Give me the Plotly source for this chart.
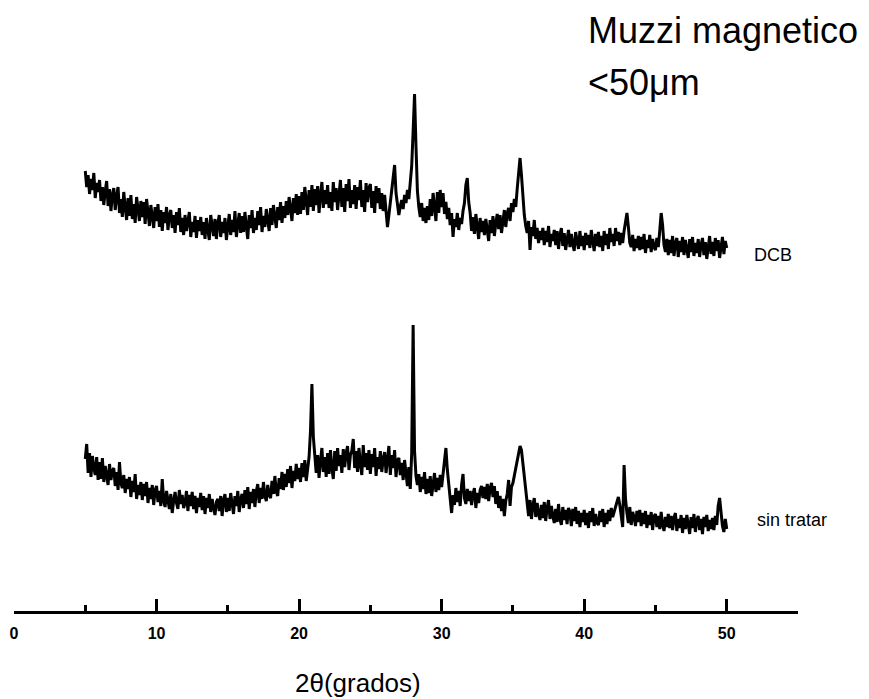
import numpy as np
import plotly.graph_objects as go

# 2-theta sampling grid (degrees), 5.0 .. 50.0 step 0.1
two_theta = np.round(5.0 + 0.1 * np.arange(451), 1)

# DCB trace (arbitrary intensity units, offset trace)
dcb = [
    440, 424, 436, 417, 432, 421, 438, 413, 428, 419,
    431, 410, 424, 406, 420, 430, 405, 422, 400, 416,
    423, 401, 415, 424, 398, 412, 394, 419, 404, 391,
    413, 395, 416, 392, 407, 388, 414, 399, 390, 410,
    394, 409, 387, 412, 399, 385, 406, 393, 383, 404,
    390, 407, 384, 401, 380, 399, 388, 404, 381, 396,
    401, 383, 396, 378, 399, 386, 403, 379, 393, 376,
    396, 380, 392, 399, 374, 389, 379, 395, 373, 391,
    380, 394, 376, 389, 372, 393, 381, 371, 396, 383,
    375, 392, 372, 388, 396, 374, 389, 378, 393, 371,
    383, 397, 376, 391, 379, 400, 374, 389, 398, 378,
    395, 379, 399, 384, 372, 396, 383, 401, 378, 393,
    381, 400, 386, 404, 379, 395, 384, 402, 390, 380,
    403, 386, 406, 392, 383, 404, 391, 409, 388, 405,
    393, 410, 396, 414, 399, 390, 413, 398, 417, 396,
    415, 397, 419, 401, 424, 405, 396, 421, 404, 426,
    400, 422, 406, 425, 398, 416, 429, 403, 421, 407,
    426, 403, 419, 400, 429, 409, 423, 401, 418, 431,
    404, 423, 399, 427, 410, 432, 403, 421, 407, 426,
    402, 424, 411, 431, 404, 421, 399, 428, 409, 423,
    427, 403, 420, 398, 425, 408, 423, 402, 418, 400,
    416, 401, 384, 396, 410, 422, 436, 446, 418, 404,
    396, 405, 411, 402, 416, 408, 421, 412, 428, 445,
    480, 517, 465, 420, 404, 394, 408, 390, 403, 388,
    405, 391, 412, 395, 418, 400, 390, 419, 398, 421,
    404, 418, 397, 409, 392, 403, 386, 398, 374, 392,
    384, 398, 381, 393, 387, 400, 408, 426, 433, 409,
    398, 380, 394, 377, 397, 384, 372, 393, 379, 390,
    376, 392, 381, 370, 391, 378, 395, 375, 388, 397,
    382, 396, 378, 392, 401, 384, 398, 403, 390, 408,
    399, 412, 404, 422, 440, 453, 436, 410, 396, 385,
    378, 390, 361, 384, 375, 391, 372, 383, 368, 380,
    371, 383, 366, 380, 369, 385, 364, 377, 370, 381,
    366, 380, 362, 376, 383, 365, 378, 361, 374, 381,
    364, 377, 367, 360, 379, 368, 362, 380, 365, 375,
    361, 378, 366, 376, 363, 381, 368, 360, 377, 365,
    379, 364, 375, 360, 380, 366, 377, 362, 383, 369,
    377, 365, 383, 370, 379, 366, 378, 368, 380, 390,
    398, 384, 368, 364, 376, 360, 372, 363, 375, 361,
    374, 362, 377, 358, 371, 363, 376, 359, 372, 364,
    361, 373, 364, 380, 398, 386, 366, 359, 372, 356,
    371, 358, 375, 355, 368, 373, 354, 370, 359, 374,
    356, 371, 362, 353, 372, 359, 374, 355, 368, 358,
    372, 354, 366, 373, 356, 369, 352, 367, 375, 357,
    369, 355, 373, 360, 371, 353, 366, 374, 357, 370,
    363,
]

# "sin tratar" (untreated) trace
sin_tratar = [
    152, 167, 138, 158, 134, 155, 143, 136, 154, 131,
    149, 132, 153, 129, 145, 136, 126, 147, 131, 140,
    143, 125, 139, 121, 149, 128, 123, 136, 118, 132,
    122, 134, 114, 130, 119, 137, 112, 126, 116, 129,
    111, 127, 115, 129, 108, 123, 112, 126, 106, 121,
    125, 109, 120, 105, 132, 110, 104, 120, 110, 102,
    117, 98, 110, 119, 108, 102, 121, 107, 116, 103,
    108, 120, 100, 116, 105, 119, 102, 115, 98, 113,
    104, 118, 101, 115, 97, 113, 103, 117, 99, 112,
    103, 96, 109, 112, 100, 115, 95, 111, 117, 99,
    113, 100, 118, 104, 97, 115, 105, 120, 99, 112,
    117, 103, 121, 107, 124, 102, 119, 108, 122, 104,
    120, 127, 108, 123, 112, 129, 115, 110, 126, 116,
    113, 130, 117, 135, 119, 115, 133, 122, 139, 121,
    137, 124, 142, 128, 145, 123, 140, 130, 147, 132,
    143, 129, 148, 134, 151, 130, 146, 154, 180, 227,
    174, 150, 138, 156, 133, 150, 163, 139, 154, 134,
    158, 137, 161, 143, 132, 160, 140, 163, 145, 156,
    138, 162, 144, 158, 165, 141, 156, 160, 172, 143,
    160, 139, 163, 147, 136, 166, 144, 158, 141, 161,
    137, 157, 144, 163, 135, 154, 142, 160, 139, 152,
    159, 138, 153, 165, 136, 156, 143, 161, 134, 151,
    153, 136, 148, 131, 151, 137, 125, 144, 122, 158,
    286, 160, 135, 126, 137, 119, 134, 122, 139, 117,
    132, 118, 135, 115, 130, 138, 119, 133, 121, 136,
    124, 138, 149, 163, 141, 126, 118, 98, 116, 106,
    123, 109, 120, 105, 126, 137, 113, 107, 122, 110,
    120, 106, 117, 123, 103, 118, 108, 121, 125, 113,
    124, 112, 127, 110, 123, 128, 114, 125, 107, 120,
    103, 115, 100, 112, 95, 110, 117, 131, 105, 124,
    128, 135, 142, 150, 158, 165, 161, 147, 132, 116,
    107, 95, 111, 92, 106, 113, 94, 108, 97, 91,
    106, 93, 109, 90, 103, 111, 92, 105, 95, 88,
    102, 89, 107, 92, 86, 104, 91, 101, 87, 103,
    99, 85, 102, 90, 104, 87, 100, 84, 98, 89,
    101, 86, 98, 83, 100, 89, 103, 85, 97, 88,
    86, 100, 89, 102, 84, 98, 87, 101, 90, 103,
    94, 99, 104, 110, 114, 106, 95, 84, 146, 112,
    98, 88, 104, 86, 99, 94, 85, 100, 89, 101,
    85, 98, 87, 100, 83, 96, 86, 99, 81, 95,
    97, 84, 95, 82, 99, 86, 80, 94, 84, 97,
    83, 95, 81, 93, 98, 80, 92, 83, 96, 78,
    93, 82, 96, 84, 77, 94, 83, 97, 79, 91,
    95, 81, 92, 77, 94, 84, 96, 80, 91, 82,
    93, 81, 95, 86, 105, 113, 98, 85, 79, 92,
    82,
]

x_ticks = [0, 10, 20, 30, 40, 50]
series_labels = ["DCB", "sin tratar"]
title_lines = ["Muzzi magnetico", "<50\u03bcm"]
x_title = "2\u03b8(grados)"

FONT = "Liberation Sans, Arial, Helvetica, sans-serif"

fig = go.Figure()
for ys in (dcb, sin_tratar):
    fig.add_trace(go.Scatter(
        x=two_theta, y=ys, mode="lines",
        line=dict(color="black", width=3),
        showlegend=False, hoverinfo="skip",
    ))

fig.update_layout(
    width=869, height=699, autosize=False,
    margin=dict(l=14, r=71, t=0, b=88),
    paper_bgcolor="white", plot_bgcolor="white",
    font=dict(family=FONT, color="black"),
    xaxis=dict(
        range=[0, 55], tickvals=x_ticks, ticktext=[str(v) for v in x_ticks],
        showline=True, linecolor="black", linewidth=2.5,
        ticks="inside", ticklen=12, tickwidth=2.5, tickcolor="black",
        showgrid=False, zeroline=False, ticklabelstandoff=6,
        tickfont=dict(size=16, family=FONT, color="black", weight="bold"),
        minor=dict(dtick=5, tick0=0, ticks="inside", ticklen=6, tickwidth=2.5,
                   tickcolor="black", showgrid=False),
    ),
    yaxis=dict(range=[0, 611], visible=False, fixedrange=True),
)

annots = [
    dict(x=40.1, y=581, text=title_lines[0], font=dict(size=36)),
    dict(x=40.1, y=529, text=title_lines[1], font=dict(size=36)),
    dict(x=51.75, y=356, text=series_labels[0], font=dict(size=18)),
    dict(x=51.95, y=91, text=series_labels[1], font=dict(size=18)),
]
for a in annots:
    fig.add_annotation(xref="x", yref="y", xanchor="left", yanchor="middle",
                       showarrow=False, **a)
fig.add_annotation(xref="x", yref="paper", x=24.1, y=-72 / 611, text=x_title,
                   showarrow=False, xanchor="center", yanchor="middle",
                   font=dict(size=26))

fig.write_html("out.html")
